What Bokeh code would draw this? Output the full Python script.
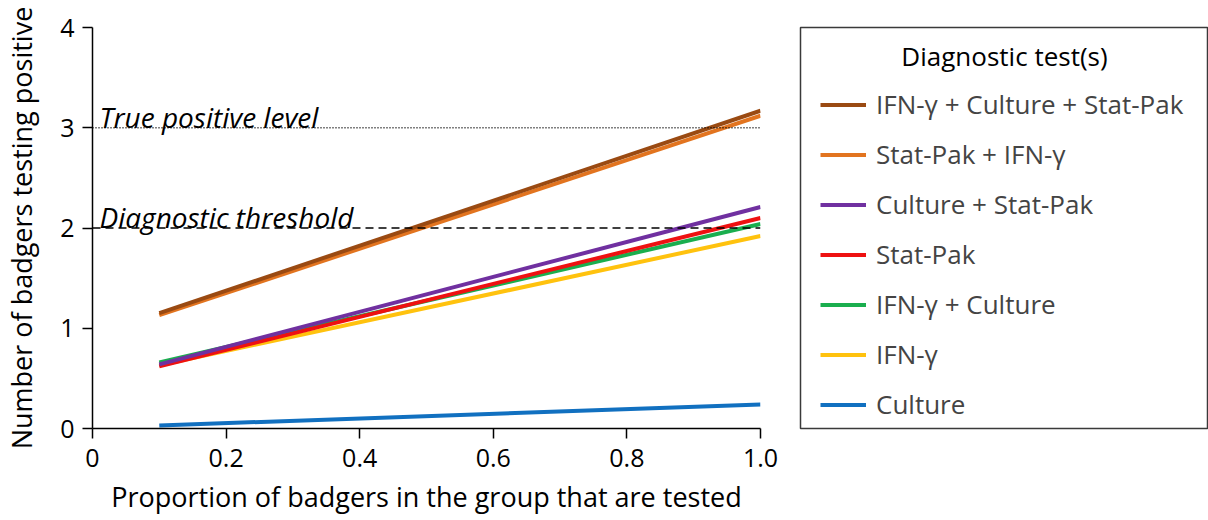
from bokeh.plotting import figure
from bokeh.layouts import row
from bokeh.models import Legend, LegendItem, Span, Label, FixedTicker, Range1d
from bokeh.embed import file_html
from bokeh.resources import INLINE

# ---- data ----
proportion_tested = [0.1, 1.0]
series_names = [
    "IFN-\u03b3 + Culture + Stat-Pak",
    "Stat-Pak + IFN-\u03b3",
    "Culture + Stat-Pak",
    "Stat-Pak",
    "IFN-\u03b3 + Culture",
    "IFN-\u03b3",
    "Culture",
]
ifn_culture_statpak = [1.15, 3.17]
statpak_ifn = [1.13, 3.12]
culture_statpak = [0.64, 2.21]
statpak = [0.62, 2.10]
ifn_culture = [0.66, 2.04]
ifn = [0.63, 1.92]
culture = [0.03, 0.24]
series_values = [ifn_culture_statpak, statpak_ifn, culture_statpak, statpak, ifn_culture, ifn, culture]
series_colors = ["#9A4A12", "#E2741F", "#7030A0", "#EE1111", "#1AAE4E", "#FFC20E", "#1170C0"]

legend_title = "Diagnostic test(s)"
true_positive_level = 3
diagnostic_threshold = 2
x_ticks = [0, 0.2, 0.4, 0.6, 0.8, 1.0]
x_tick_labels = ["0", "0.2", "0.4", "0.6", "0.8", "1.0"]
y_ticks = [0, 1, 2, 3, 4]

FONT = "Open Sans"
NAN = float("nan")

# ---- main plot ----
p = figure(width=780, height=520, output_backend="svg", toolbar_location=None,
           x_range=Range1d(0, 1.0), y_range=Range1d(0, 4),
           min_border_left=90, min_border_top=27, min_border_bottom=92, min_border_right=20)
p.outline_line_color = None
p.grid.visible = False

p.add_layout(Span(location=true_positive_level, dimension="width", line_color="black",
                  line_dash="1 2", line_width=1.5))
p.add_layout(Span(location=diagnostic_threshold, dimension="width", line_color="black",
                  line_dash="8 5", line_width=1.5))

p.add_layout(Label(x=0, y=true_positive_level, x_offset=7, y_offset=11, text="True positive level",
                   text_font=FONT, text_font_style="italic", text_font_size="28px",
                   text_baseline="alphabetic", text_color="black"))
p.add_layout(Label(x=0, y=diagnostic_threshold, x_offset=7, y_offset=11, text="Diagnostic threshold",
                   text_font=FONT, text_font_style="italic", text_font_size="28px",
                   text_baseline="alphabetic", text_color="black"))

# draw in reverse so the first series sit on top
for i in reversed(range(len(series_values))):
    p.line(proportion_tested, series_values[i], line_color=series_colors[i], line_width=4)

for ax in (p.xaxis[0], p.yaxis[0]):
    ax.axis_line_width = 1.5
    ax.major_tick_line_width = 1.5
    ax.major_tick_out = 10
    ax.major_tick_in = 0
    ax.minor_tick_line_color = None
    ax.major_label_text_font = FONT
    ax.major_label_text_font_size = "25px"
    ax.axis_label_text_font = FONT
    ax.axis_label_text_font_size = "27px"
    ax.axis_label_text_font_style = "normal"
    ax.axis_line_color = "black"
    ax.major_tick_line_color = "black"
    ax.major_label_text_color = "black"
    ax.axis_label_text_color = "black"

p.xaxis.ticker = FixedTicker(ticks=x_ticks)
p.xaxis.major_label_overrides = {t: l for t, l in zip(x_ticks, x_tick_labels)}
p.xaxis.axis_label = "Proportion of badgers in the group that are tested"
p.xaxis.major_label_standoff = 10
p.xaxis.axis_label_standoff = 8
p.yaxis.ticker = FixedTicker(ticks=y_ticks)
p.yaxis.axis_label = "Number of badgers testing positive"
p.yaxis.major_label_standoff = 8
p.yaxis.axis_label_standoff = 17

# ---- legend panel: its frame (aligned with the main plot's frame) is the legend box ----
lg = figure(width=428, height=520, output_backend="svg", toolbar_location=None,
            x_range=Range1d(0, 407), y_range=Range1d(0, 401),
            min_border_left=20, min_border_right=1, min_border_top=27, min_border_bottom=92)
lg.axis.visible = False
lg.grid.visible = False
lg.outline_line_color = "#3a3a3a"
lg.outline_line_width = 1.5

# legend-only renderers (no visible data points)
legend_renderers = [lg.line([NAN], [NAN], line_color=c, line_width=4) for c in series_colors]
items = [LegendItem(label=n, renderers=[r]) for n, r in zip(series_names, legend_renderers)]
legend = Legend(items=items, location=(20, 6), title=" ",
                title_text_font=FONT, title_text_font_size="26px", title_standoff=16,
                label_text_font=FONT, label_text_font_size="26px",
                glyph_width=46, glyph_height=35, label_height=35,
                label_standoff=10, spacing=14, padding=6, margin=0,
                border_line_color=None, background_fill_alpha=0.0)
lg.add_layout(legend, "center")
lg.add_layout(Label(x=204, y=373, text=legend_title,
                    text_font=FONT, text_font_size="26px", text_align="center",
                    text_baseline="middle", text_color="black"))

layout = row(p, lg, spacing=0)
open("out.html", "w").write(file_html(layout, INLINE))
